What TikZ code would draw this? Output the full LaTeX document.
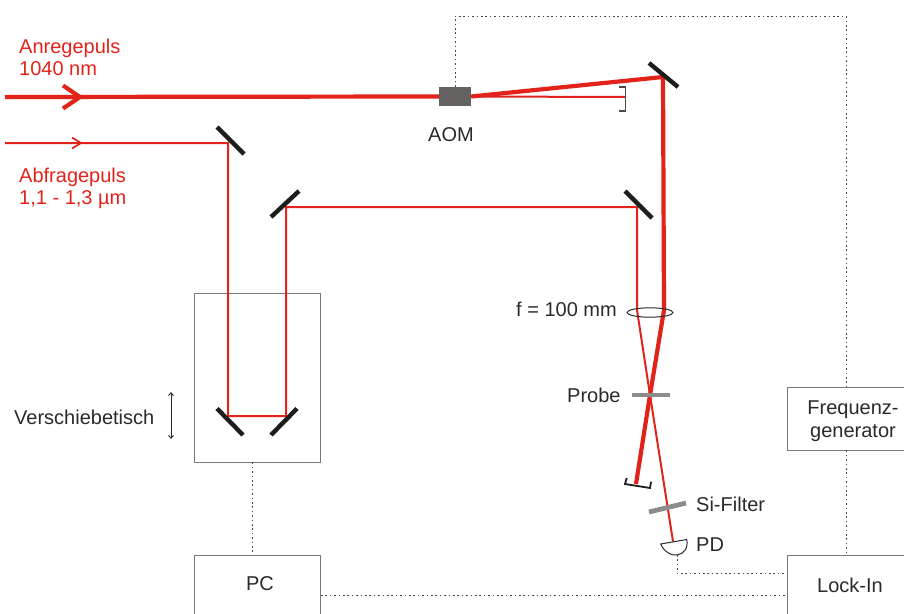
\documentclass[tikz,border=0pt]{standalone}
\usepackage{fontspec}
\setmainfont{Liberation Sans}
\usetikzlibrary{arrows.meta,calc,shapes.geometric}
\definecolor{beam}{HTML}{E2231A}
\definecolor{ink}{HTML}{2B2A29}
\definecolor{mirrorcol}{HTML}{1D1D1B}
\definecolor{boxline}{HTML}{7A7A7A}
\definecolor{plate}{HTML}{8C8C8C}
\definecolor{aomfill}{HTML}{636260}
\definecolor{signalcol}{HTML}{4A4A48}
\tikzset{
  thickbeam/.style={draw=beam,line width=4.2pt},
  thinbeam/.style={draw=beam,line width=2pt},
  mirror/.style={draw=mirrorcol,line width=4.4pt},
  plateline/.style={draw=plate,line width=4.8pt},
  signal/.style={draw=signalcol,line width=1pt,dash pattern=on 1.6pt off 2.8pt},
  framebox/.style={draw=boxline,line width=0.9pt,fill=white,inner sep=0pt},
  lbl/.style={text=ink,font=\fontsize{20}{24}\selectfont,anchor=base west,inner sep=0pt},
  redlbl/.style={lbl,text=beam},
  midlbl/.style={lbl,anchor=base,align=center},
}
\begin{document}
\begin{tikzpicture}[x=1pt,y=-1pt,line join=miter]
\useasboundingbox (0,0) rectangle (904,613);
\clip (0,0) rectangle (904,613);
% boxes
\node[framebox,minimum width=126pt,minimum height=169pt] (table) at (257.5,377.5) {};
\node[framebox,minimum width=126pt,minimum height=80pt] (pc) at (257.5,595) {};
\node[framebox,minimum width=143pt,minimum height=63pt] (fg) at (858.5,418.5) {};
\node[framebox,minimum width=143pt,minimum height=90pt] (lock) at (858.5,600) {};
\node[fill=aomfill,minimum width=32pt,minimum height=19pt,inner sep=0pt] (aom) at (455,96.5) {};
% key beam points
\coordinate (pumpstart) at (5,97);
\coordinate (pumpmirror) at (663,77);
\coordinate (pumplens) at (664,310);
\coordinate (focus) at (650,395);
\coordinate (dumpb) at (636,484);
\coordinate (dumpz) at (625,97);
\coordinate (probestart) at (5,143);
\coordinate (m1) at (228,143);
\coordinate (m2) at (228,416);
\coordinate (m3) at (286,416);
\coordinate (m4) at (286,207);
\coordinate (m5) at (637,207);
\coordinate (probelens) at (637,310);
\coordinate (pdtop) at (673,541.5);
% beams
\draw[thickbeam] (pumpstart) -- (aom.west);
\draw[thinbeam] (aom.east) -- (dumpz);
\draw[thickbeam,line join=round] (aom.east) -- (pumpmirror) -- (pumplens) -- (focus) -- (dumpb);
\draw[thinbeam] (probestart) -- (m1) -- (m2) -- (m3) -- (m4) -- (m5) -- (probelens) -- (focus) -- (pdtop);
% direction chevrons
\draw[draw=beam,line width=4.2pt] (63,85.5) -- (80,97) -- (63,108.5);
\draw[draw=beam,line width=1.7pt] (72,137.5) -- (81,143) -- (72,148.5);
% mirrors
\draw[mirror] (649,63) -- (678,87);
\draw[mirror] (217,127) -- (244,154);
\draw[mirror] (271,217) -- (299,191);
\draw[mirror] (625,191) -- (652,218);
\draw[mirror] (217,408.5) -- (243,435);
\draw[mirror] (271,435) -- (297,408.5);
% beam dumps
\draw[draw=signalcol,line width=1.1pt] (619,87) -- (625.7,87) -- (625.7,111) -- (619,111);
\draw[draw=mirrorcol,line width=1.8pt] (626.7,478) -- (625,484) -- (650,488) -- (651,481.7);
% lens
\node[draw=ink,line width=1pt,ellipse,minimum width=46pt,minimum height=9.4pt,inner sep=0pt] (lens) at (650,312.5) {};
% plates
\draw[plateline] (632,395) -- (670,395);
\draw[plateline] (649,512) -- (686,503);
% photodiode
\coordinate (pdbot) at (677,555);
\draw[draw=ink,line width=1pt,fill=white] (660.7,544) .. controls (664,552) and (672,556) .. (pdbot) .. controls (684,554) and (688.5,548) .. (686.7,539.5) -- cycle;
% translation arrow
\coordinate (ta) at (171,392);
\coordinate (tb) at (171,439);
\draw[draw=ink,line width=0.9pt,{Straight Barb[length=3pt,width=5pt]}-{Straight Barb[length=3pt,width=5pt]}] (ta) -- (tb);
% signal lines
\coordinate (busx) at (846,0);
\coordinate (busy) at (0,16);
\coordinate (pcx) at (252.5,0);
\draw[signal] (aom.north) -- (aom.north |- busy) -- (busx |- busy) -- (busx |- fg.north);
\draw[signal] (busx |- fg.south) -- (busx |- lock.north);
\draw[signal] (pcx |- table.south) -- (pcx |- pc.north);
\coordinate (pdcorner) at (677,573);
\draw[signal] (pdbot) -- (pdcorner) -- (pdcorner -| lock.west);
\coordinate (pcline) at (321,595);
\draw[signal] (pcline) -- (pcline -| lock.west);
% labels
\node[redlbl] (t1) at (19,53) {Anregepuls};
\node[redlbl] (t2) at (19,75) {1040 nm};
\node[redlbl] (t3) at (19,182) {Abfragepuls};
\node[redlbl] (t4) at (19,204) {1,1 - 1,3 µm};
\node[lbl] (t5) at (428,141) {AOM};
\node[lbl] (t6) at (516,316) {f = 100 mm};
\node[lbl] (t7) at (567,402) {Probe};
\node[lbl] (t8) at (696,511) {Si-Filter};
\node[lbl] (t9) at (696,551) {PD};
\node[lbl] (t10) at (14,424) {Verschiebetisch};
\node[midlbl] (t11) at (260,590) {PC};
\node[midlbl] (t12) at (850,592) {Lock-In};
\node[midlbl] (t13) at (853,414) {Frequenz-};
\node[midlbl] (t14) at (853,437) {generator};
\end{tikzpicture}
\end{document}
